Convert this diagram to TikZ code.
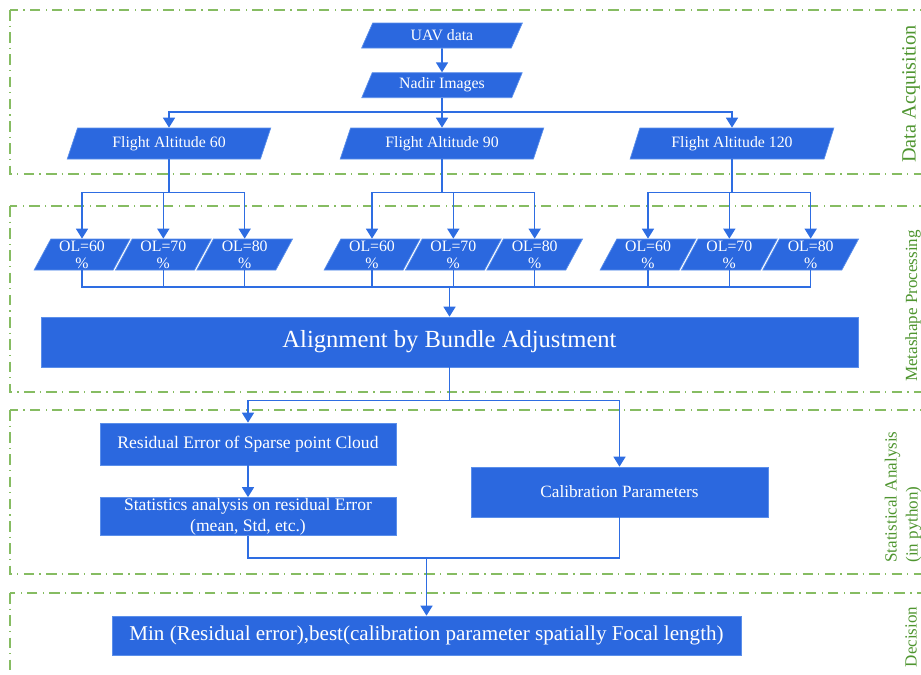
\documentclass[tikz,border=0pt]{standalone}
\usepackage{fontspec}
\setmainfont{Liberation Serif}
\usetikzlibrary{shapes.geometric, arrows.meta, positioning, calc}
\definecolor{colorCaja}{HTML}{2B68DF}
\definecolor{colorBorde}{HTML}{5B8FEA}
\definecolor{colorLinea}{HTML}{2E6DE2}
\definecolor{colorMarco}{HTML}{86BC62}
\definecolor{colorRotulo}{HTML}{4F9530}

\begin{document}
\begin{tikzpicture}[x=0.02cm, y=-0.02cm, font=\fontsize{9}{10}\selectfont,
        >={Triangle[width=2.4mm, length=2mm]},
        pg/.style={trapezium, trapezium left angle=66, trapezium right angle=114,
            trapezium stretches=true, fill=colorCaja, draw=colorBorde, line width=0.4pt,
            text=white, inner sep=0pt, align=center},
        ol/.style={pg, minimum width=1.92cm, minimum height=0.62cm,
            font=\fontsize{9}{9.6}\selectfont},
        bx/.style={rectangle, fill=colorCaja, draw=colorBorde, line width=0.4pt,
            text=white, inner sep=0pt, align=center},
        ln/.style={colorLinea, line width=0.9pt},
        tr/.style={ln, ->},
        fr/.style={colorMarco, line width=0.8pt,
            dash pattern=on 2.1mm off 1mm on 0.25mm off 1.1mm},
        lb/.style={rotate=90, text=colorRotulo, font=\fontsize{9.7}{12}\selectfont, align=left}]
        \useasboundingbox (0,0) rectangle (921,674);
        \clip (0,0) rectangle (921,674);
        % marcos
        \draw[fr] (10,10) rectangle (940,174);
        \draw[fr] (10,206) rectangle (940,392);
        \draw[fr] (10,410) rectangle (940,574);
        \draw[fr] (10,593) rectangle (940,700);
        \node[lb, font=\fontsize{11.5}{13}\selectfont] (lacq) at (911,94) {Data Acquisition};
        \node[lb] (lmeta) at (913,306) {Metashape Processing};
        \node[lb] (lstat) at (903,497) {Statistical Analysis\\(in python)};
        \node[lb] (ldec) at (911,637) {Decision};
        % adquisicion
        \node[pg, minimum width=3.22cm, minimum height=0.5cm] (uav) at (442,35.5) {UAV data};
        \node[pg, minimum width=3.22cm, minimum height=0.5cm, below=0.48cm of uav] (nadir) {Nadir Images};
        \node[pg, minimum width=4.08cm, minimum height=0.62cm] (f60) at (169,143.5) {Flight Altitude 60};
        \node[pg, minimum width=4.08cm, minimum height=0.62cm] (f90) at (442,143.5) {Flight Altitude 90};
        \node[pg, minimum width=4.08cm, minimum height=0.62cm] (f120) at (732,143.5) {Flight Altitude 120};
        \draw[tr] (uav) -- (nadir);
        \foreach \f in {f60,f90,f120}
            \draw[tr] (nadir.south) -- ++(0,14) -| (\f.north);
        % traslapes
        \foreach \g/\x in {a/82, b/372, c/648} {
            \node[ol] (\g1) at (\x,254.5) {OL=60\\\%};
            \node[ol, right=0.03cm of \g1] (\g2) {OL=70\\\%};
            \node[ol, right=0.03cm of \g2] (\g3) {OL=80\\\%};
        }
        \foreach \f/\g in {f60/a, f90/b, f120/c}
            \foreach \i in {1,2,3}
                \draw[tr] (\f.south) -- ++(0,33) -| (\g\i.north);
        \node[bx, minimum width=16.34cm, minimum height=1cm,
            font=\fontsize{14}{16}\selectfont] (align) at (449.5,342) {Alignment by Bundle Adjustment};
        \coordinate (bus) at (449.5,287);
        \foreach \g in {a,b,c}
            \foreach \i in {1,2,3}
                \draw[ln] (\g\i.south) |- (bus);
        \draw[tr] (bus) -- (align.north);
        % analisis
        \node[bx, minimum width=5.92cm, minimum height=0.84cm,
            font=\fontsize{10}{11}\selectfont] (resid) at (248,444) {Residual Error of Sparse point Cloud};
        \node[bx, minimum width=5.92cm, minimum height=0.76cm,
            font=\fontsize{10}{12.2}\selectfont] (stats) at (248,516.5) {Statistics analysis on residual Error\\(mean, Std, etc.)};
        \node[bx, minimum width=5.94cm, minimum height=1cm,
            font=\fontsize{9.8}{11}\selectfont] (calib) at (619.5,492) {Calibration Parameters};
        \draw[tr] (align.south) -- ++(0,33) -| (resid.north);
        \draw[tr] (align.south) -- ++(0,33) -| (calib.north);
        \draw[tr] (resid) -- (stats);
        % decision
        \node[bx, minimum width=12.58cm, minimum height=0.78cm,
            font=\fontsize{12}{14}\selectfont] (dec) at (426.5,635.5)
            {Min (Residual error),best(calibration parameter spatially Focal length)};
        \coordinate (join) at (426.5,558);
        \draw[ln] (stats.south) |- (join);
        \draw[ln] (calib.south) |- (join);
        \draw[tr] (join) -- (dec.north);
    \end{tikzpicture}
\end{document}
